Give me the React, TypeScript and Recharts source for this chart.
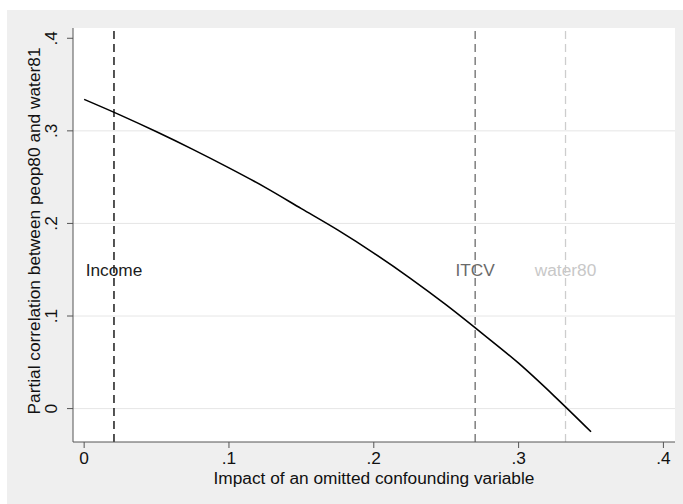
import {
  CartesianGrid,
  Label,
  Line,
  LineChart,
  ReferenceDot,
  ReferenceLine,
  XAxis,
  YAxis,
} from 'recharts';

// impact of the omitted variable (x) vs. the adjusted partial correlation (y)
const IMPACT = [
  0, 0.025, 0.05, 0.075, 0.1, 0.125, 0.15, 0.175, 0.2, 0.225, 0.25, 0.275, 0.3,
  0.325, 0.35,
];
const PARTIAL_R = [
  0.334, 0.317, 0.299, 0.28, 0.26, 0.239, 0.216, 0.193, 0.168, 0.141, 0.112,
  0.081, 0.049, 0.013, -0.025,
];

const X_TICKS = [0, 0.1, 0.2, 0.3, 0.4];
const Y_TICKS = [0, 0.1, 0.2, 0.3, 0.4];
const GRID_Y = [0, 0.1, 0.2, 0.3];

const MARKER_NAMES = ['Income', 'ITCV', 'water80'];
const MARKER_X = [0.0206, 0.27, 0.3324];
const MARKER_LABEL_Y = 0.15;

const MARKER_STYLE: Record<string, { line: string; text: string; width: number }> = {
  Income: { line: '#1c1c1c', text: '#1c1c1c', width: 1.5 },
  ITCV: { line: '#6a6a6a', text: '#6a6a6a', width: 1.3 },
  water80: { line: '#cdcdcd', text: '#c8c8c8', width: 1.3 },
};

const FONT = '"Liberation Sans", Arial, sans-serif';
const FS = 17.3;

const data = IMPACT.map((k, i) => ({ k, r: PARTIAL_R[i] }));

const fmt = (v: number) => (v === 0 ? '0' : String(v).replace(/^0/, ''));

function YTick({ x, y, payload }: any) {
  return (
    <text
      x={x}
      y={y}
      transform={`rotate(-90 ${x} ${y})`}
      textAnchor="middle"
      fill="#111"
      fontSize={FS}
      fontFamily={FONT}
    >
      {fmt(payload.value)}
    </text>
  );
}

export default function App() {
  return (
    <div
      style={{
        position: 'absolute',
        left: 7,
        top: 10,
        width: 676,
        height: 494,
        background: '#efefef',
        fontFamily: FONT,
      }}
    >
      <LineChart
        width={676}
        height={494}
        data={data}
        margin={{ top: 18, right: 8, bottom: 0, left: 0 }}
      >
        <CartesianGrid fill="#fff" horizontal={false} vertical={false} />
        {GRID_Y.map((v) => (
          <ReferenceLine key={v} y={v} stroke="#e6e6e6" strokeWidth={1} />
        ))}
        <XAxis
          dataKey="k"
          type="number"
          domain={[-0.0077, 0.408]}
          allowDataOverflow
          ticks={X_TICKS}
          interval={0}
          tickFormatter={fmt}
          height={62}
          tickSize={6}
          tickMargin={4}
          stroke="#555"
          tick={{ fill: '#111', fontSize: FS, fontFamily: FONT }}
        >
          <Label
            content={({ viewBox }: any) => (
              <text
                x={viewBox.x + viewBox.width / 2}
                y={viewBox.y + 42}
                textAnchor="middle"
                fill="#111"
                fontSize={FS}
                fontFamily={FONT}
              >
                Impact of an omitted confounding variable
              </text>
            )}
          />
        </XAxis>
        <YAxis
          type="number"
          domain={[-0.0361, 0.4111]}
          allowDataOverflow
          ticks={Y_TICKS}
          interval={0}
          width={66}
          tickSize={6}
          tickMargin={10}
          stroke="#555"
          tick={<YTick />}
        >
          <Label
            content={({ viewBox }: any) => {
              const cx = 33;
              const cy = viewBox.y + viewBox.height / 2 - 4;
              return (
                <text
                  x={cx}
                  y={cy}
                  transform={`rotate(-90 ${cx} ${cy})`}
                  textAnchor="middle"
                  fill="#111"
                  fontSize={FS}
                  fontFamily={FONT}
                >
                  Partial correlation between peop80 and water81
                </text>
              );
            }}
          />
        </YAxis>
        {MARKER_NAMES.map((name, i) => (
          <ReferenceLine
            key={name}
            x={MARKER_X[i]}
            stroke={MARKER_STYLE[name].line}
            strokeWidth={MARKER_STYLE[name].width}
            strokeDasharray="8 5"
          />
        ))}
        <Line
          dataKey="r"
          type="monotone"
          stroke="#000"
          strokeWidth={1.6}
          dot={false}
          isAnimationActive={false}
        />
        {MARKER_NAMES.map((name, i) => (
          <ReferenceDot
            key={name}
            x={MARKER_X[i]}
            y={MARKER_LABEL_Y}
            r={0}
            fill="none"
            stroke="none"
            label={{
              value: name,
              position: 'center',
              fill: MARKER_STYLE[name].text,
              fontSize: FS,
              fontFamily: FONT,
            }}
          />
        ))}
      </LineChart>
    </div>
  );
}
